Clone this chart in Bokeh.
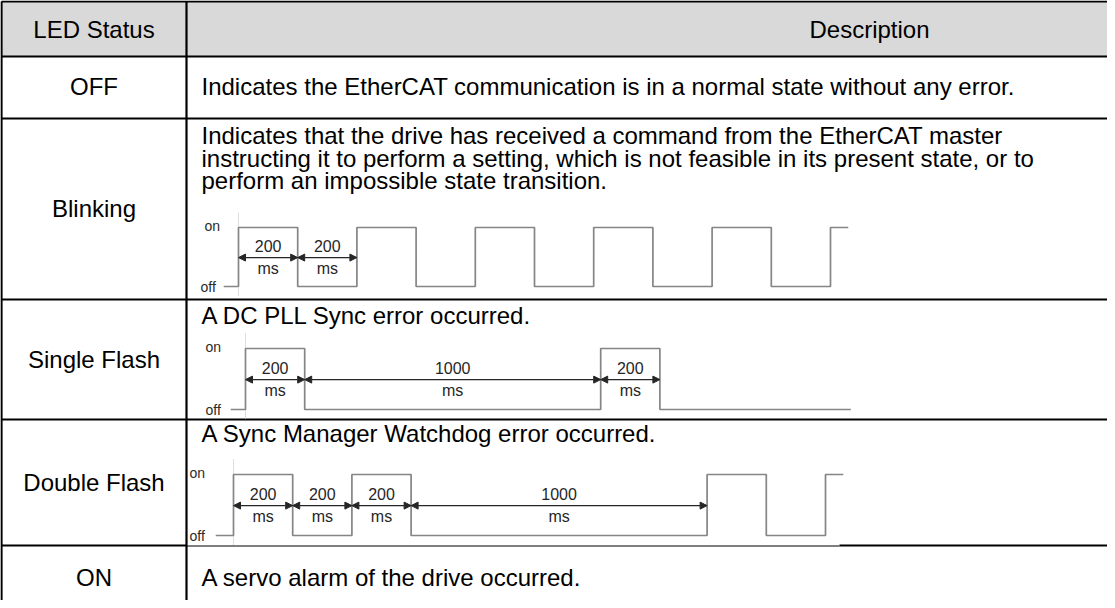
from bokeh.plotting import figure
from bokeh.models import Range1d, ColumnDataSource, Arrow, NormalHead
from bokeh.core.properties import value
from bokeh.embed import file_html
from bokeh.resources import INLINE

# ---------------- data ----------------
header = ["LED Status", "Description"]
statuses = ["OFF", "Blinking", "Single Flash", "Double Flash", "ON"]
descriptions = [
    ["Indicates the EtherCAT communication is in a normal state without any error."],
    ["Indicates that the drive has received a command from the EtherCAT master",
     "instructing it to perform a setting, which is not feasible in its present state, or to",
     "perform an impossible state transition."],
    ["A DC PLL Sync error occurred."],
    ["A Sync Manager Watchdog error occurred."],
    ["A servo alarm of the drive occurred."],
]
level_names = ["on", "off"]
unit = "ms"

# waveforms: segment durations (ms) with LED level (1 = on, 0 = off); first segment is the lead-in
blink_ms = [50, 200, 200, 200, 200, 200, 200, 200, 200, 200, 200, 60]
blink_lvl = [0, 1, 0, 1, 0, 1, 0, 1, 0, 1, 0, 1]
blink_marked = [200, 200]

single_ms = [50, 200, 1000, 200, 645]
single_lvl = [0, 1, 0, 1, 0]
single_marked = [200, 1000, 200]

double_ms = [60, 200, 200, 200, 1000, 200, 200, 60]
double_lvl = [0, 1, 0, 1, 0, 1, 0, 1]
double_marked = [200, 200, 200, 1000]

# ---------------- layout ----------------
FL, FR, FT, FB = 8, 1115, 8, 608
LEFT, COL, RIGHT = 9, 194, 1560
ROWS = [9, 64, 126, 307, 427, 553, 616]
FONT = value("Liberation Sans")
FS = "24px"
TXT_X = COL + 15
S = 0.296  # px per ms
WAVE = "#858585"
DIM = "#262626"

p = figure(width=FR - FL, height=FB - FT, x_range=Range1d(FL, FR), y_range=Range1d(FB, FT),
           output_backend="svg", toolbar_location=None, min_border=0,
           x_axis_type=None, y_axis_type=None)
p.grid.visible = False
p.outline_line_color = None
p.background_fill_color = "white"
p.border_fill_color = "white"

# header fill
p.quad(left=[LEFT], right=[RIGHT], top=[ROWS[0]], bottom=[ROWS[1]],
       fill_color="#d9d9d9", line_color=None)

# table lines
hx0, hx1, hy = [], [], []
for i, y in enumerate(ROWS[:-1]):
    if i == 5:
        continue
    hx0.append(LEFT); hx1.append(RIGHT); hy.append(y)
p.segment(x0=hx0, x1=hx1, y0=hy, y1=hy, line_color="black", line_width=2.2)
# the line under the double-flash row is partly covered by its diagram
p.segment(x0=[LEFT, 847], x1=[COL, RIGHT], y0=[ROWS[5]] * 2, y1=[ROWS[5]] * 2,
          line_color="black", line_width=2.2)
p.segment(x0=[COL], x1=[847], y0=[ROWS[5] + 0.5], y1=[ROWS[5] + 0.5],
          line_color="black", line_width=1.2)
p.segment(x0=[LEFT, COL], x1=[LEFT, COL], y0=[ROWS[0]] * 2, y1=[ROWS[-1]] * 2,
          line_color="black", line_width=2.2)

# header texts
p.text(x=[(LEFT + COL) / 2, (COL + RIGHT) / 2], y=[37, 37], text=header, text_font=FONT,
       text_font_size=FS, text_align="center", text_baseline="middle", text_color="black")

# status labels
label_y = [94, 216, 367, 490, 585]
p.text(x=[(LEFT + COL) / 2] * len(statuses), y=label_y, text=statuses, text_font=FONT,
       text_font_size=FS, text_align="center", text_baseline="middle", text_color="black")

# description texts
desc_y = [[94], [143, 165.5, 188], [323], [441], [585]]
tx, ty, tt = [], [], []
for lines, ys in zip(descriptions, desc_y):
    for line, y in zip(lines, ys):
        tx.append(TXT_X); ty.append(y); tt.append(line)
p.text(x=tx, y=ty, text=tt, text_font=FONT, text_font_size=FS,
       text_align="left", text_baseline="middle", text_color="black")


def add_wave(name, ms, lvl, marked, x0, on_y, off_y, on_lx, off_lx):
    a = (FL - x0) / S
    b = a + (FR - FL) / S
    h = off_y - on_y
    c = (off_y - FB) / h
    d = c + (FB - FT) / h
    p.extra_x_ranges = {**p.extra_x_ranges, name: Range1d(a, b)}
    p.extra_y_ranges = {**p.extra_y_ranges, name: Range1d(c, d)}
    kw = dict(x_range_name=name, y_range_name=name)

    # guides at the first edge
    p.segment(x0=[0, 0], x1=[0, 0], y0=[1, -0.15], y1=[1.25, 0], line_color="#bdbdbd",
              line_width=1, line_dash="1 1", **kw)

    # step waveform
    t = -ms[0]
    xs, ys = [], []
    for dur, l in zip(ms, lvl):
        xs += [t, t + dur]
        ys += [l, l]
        t += dur
    p.line(xs, ys, line_color=WAVE, line_width=1.7, **kw)

    # dimension arrows
    ax0, ax1, mid, num = [], [], [], []
    t = 0
    for dur in marked:
        ax0.append(t); ax1.append(t + dur); mid.append(t + dur / 2); num.append(str(dur))
        t += dur
    src = ColumnDataSource(dict(x0=ax0, x1=ax1, y=[0.49] * len(ax0)))
    p.add_layout(Arrow(start=NormalHead(size=7, fill_color=DIM, line_color=DIM),
                       end=NormalHead(size=7, fill_color=DIM, line_color=DIM),
                       x_start="x0", y_start="y", x_end="x1", y_end="y", source=src,
                       line_color=DIM, line_width=1.1, **kw))
    p.text(x=mid, y=[0.68] * len(mid), text=num, text_font=FONT, text_font_size="16px",
           text_align="center", text_baseline="middle", text_color=DIM, **kw)
    p.text(x=mid, y=[0.31] * len(mid), text=[unit] * len(mid), text_font=FONT,
           text_font_size="16px", text_align="center", text_baseline="middle",
           text_color=DIM, **kw)

    # on / off labels
    p.text(x=[on_lx, off_lx], y=[on_y - 2, off_y], text=level_names, text_font=FONT,
           text_font_size="14px", text_align="left", text_baseline="middle",
           text_color="#2a2a2a")


add_wave("blink", blink_ms, blink_lvl, blink_marked, 246, 235, 294, 212, 208)
add_wave("single", single_ms, single_lvl, single_marked, 253, 356, 417, 213, 213)
add_wave("double", double_ms, double_lvl, double_marked, 241, 482, 543, 197, 197)

open("out.html", "w").write(file_html(p, INLINE))
